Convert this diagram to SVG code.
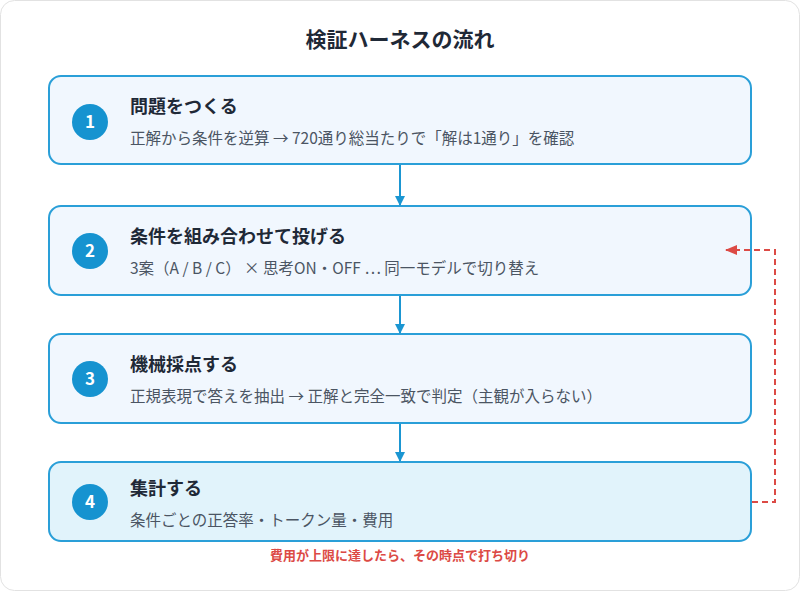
<svg xmlns="http://www.w3.org/2000/svg" width="800" height="591" viewBox="0 0 800 591">
<style>
text{font-family:"Noto Sans CJK JP","Noto Sans",sans-serif}
.box{fill:#f1f7fe;stroke:#2a9fd8;stroke-width:2}
.b4{fill:#e1f3fb}
.num{fill:#1693d0}
.nt{fill:#fff;font-size:17px;font-weight:700;text-anchor:middle}
.h{fill:#1f2937;font-size:18px;font-weight:700}
.s{fill:#4b5563;font-size:15.5px}
.c{stroke:#1b96d2;stroke-width:2;fill:none}
</style>
<defs>
<marker id="ab" markerWidth="10" markerHeight="10" refX="9" refY="5" orient="auto" markerUnits="userSpaceOnUse"><path d="M0,0L10,5L0,10z" fill="#1b96d2"/></marker>
<marker id="ar" markerWidth="12" markerHeight="10" refX="11" refY="5" orient="auto" markerUnits="userSpaceOnUse"><path d="M0,0L12,5L0,10z" fill="#dc4a45"/></marker>
</defs>
<rect x="0.5" y="0.5" width="799" height="590" rx="14" fill="#fff" stroke="#e2e2e2"/>
<text x="400" y="47" text-anchor="middle" font-size="21" font-weight="700" fill="#1f2937">検証ハーネスの流れ</text>
<g id="n1"><rect class="box" x="49" y="76" width="702" height="88" rx="12"/><circle class="num" cx="90" cy="122" r="18"/><text class="nt" x="90" y="128">1</text><text class="h" x="130" y="113">問題をつくる</text><text class="s" x="130" y="144">正解から条件を逆算 → 720通り総当たりで「解は1通り」を確認</text></g>
<g id="n2"><rect class="box" x="49" y="206" width="702" height="89" rx="12"/><circle class="num" cx="90" cy="251" r="18"/><text class="nt" x="90" y="257">2</text><text class="h" x="130" y="243">条件を組み合わせて投げる</text><text class="s" x="130" y="274">3案（A / B / C） × 思考ON・OFF … 同一モデルで切り替え</text></g>
<g id="n3"><rect class="box" x="49" y="334" width="702" height="89" rx="12"/><circle class="num" cx="90" cy="379" r="18"/><text class="nt" x="90" y="385">3</text><text class="h" x="130" y="371">機械採点する</text><text class="s" x="130" y="402">正規表現で答えを抽出 → 正解と完全一致で判定（主観が入らない）</text></g>
<g id="n4"><rect class="box b4" x="49" y="462" width="702" height="79" rx="12"/><circle class="num" cx="90" cy="502" r="18"/><text class="nt" x="90" y="508">4</text><text class="h" x="130" y="495">集計する</text><text class="s" x="130" y="526">条件ごとの正答率・トークン量・費用</text></g>
<g id="connectors">
<line class="c" x1="400" y1="165" x2="400" y2="205" marker-end="url(#ab)"/>
<line class="c" x1="400" y1="296" x2="400" y2="333" marker-end="url(#ab)"/>
<line class="c" x1="400" y1="424" x2="400" y2="461" marker-end="url(#ab)"/>
<path d="M752,502H775V250H726" fill="none" stroke="#dc4a45" stroke-width="2" stroke-dasharray="6,4" marker-end="url(#ar)"/>
</g>
<text x="400" y="560" text-anchor="middle" font-size="13" font-weight="700" fill="#dc4a45">費用が上限に達したら、その時点で打ち切り</text>
</svg>
